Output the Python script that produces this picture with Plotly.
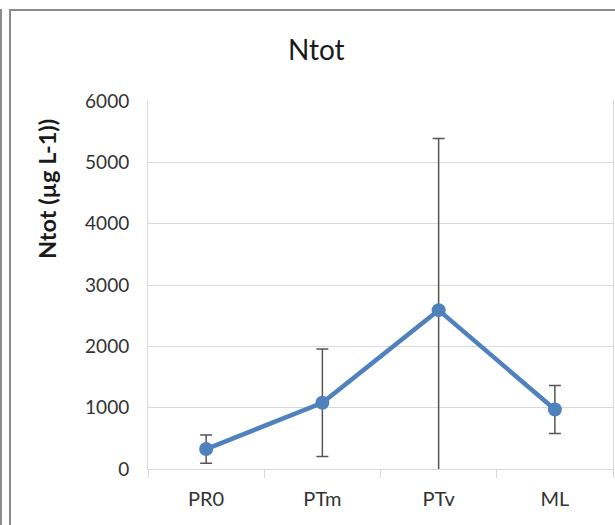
import plotly.graph_objects as go

categories = ["PR0", "PTm", "PTv", "ML"]
ntot_mean = [325, 1080, 2590, 970]
ntot_err = [230, 875, 2800, 390]
y_ticks = [0, 1000, 2000, 3000, 4000, 5000, 6000]

W, H = 615, 525
L, R, T, B = 148, 2, 101, 56
PW = W - L - R
PH = H - T - B


def px_x(p):
    return (p - L) / PW


def px_y(p):
    return (H - B - p) / PH


fig = go.Figure()
fig.add_trace(go.Scatter(
    x=categories,
    y=ntot_mean,
    mode="lines+markers",
    line=dict(color="#4F81BD", width=4.5),
    marker=dict(color="#4F81BD", size=14),
    error_y=dict(type="data", array=ntot_err, symmetric=True,
                 color="#555555", thickness=1.5, width=6),
    showlegend=False,
))

grey = "#D9D9D9"
fig.update_layout(
    width=W, height=H,
    margin=dict(l=L, r=R, t=T, b=B),
    paper_bgcolor="white",
    plot_bgcolor="white",
    font=dict(family="Lato", color="#333333"),
    xaxis=dict(
        type="category",
        range=[-0.5, 3.5],
        tickson="boundaries",
        ticks="outside", ticklen=8, tickcolor=grey, tickwidth=1,
        ticklabelstandoff=12,
        showline=True, linecolor=grey, linewidth=1,
        showgrid=False, zeroline=False,
        tickfont=dict(size=20, color="#333333"),
    ),
    yaxis=dict(
        range=[0, 6000],
        tickvals=y_ticks,
        ticks="", ticklabelstandoff=14,
        showgrid=True, gridcolor=grey, gridwidth=1,
        showline=True, linecolor=grey, linewidth=1, mirror=True,
        zeroline=False,
        tickfont=dict(size=19, color="#333333"),
    ),
    annotations=[
        dict(text="Ntot", xref="paper", yref="paper",
             x=px_x(316), y=px_y(49), xanchor="center", yanchor="middle",
             showarrow=False, font=dict(size=28, color="#1a1a1a")),
        dict(text="<b>Ntot (µg L-1))</b>", xref="paper", yref="paper",
             x=px_x(47), y=px_y(189), xanchor="center", yanchor="middle",
             textangle=-90, showarrow=False,
             font=dict(size=23.5, color="#1a1a1a")),
    ],
    shapes=[
        dict(type="rect", xref="paper", yref="paper",
             x0=px_x(0), x1=px_x(2), y0=px_y(9), y1=px_y(530),
             fillcolor="#8C8C8C", line=dict(width=0), layer="above"),
        dict(type="line", xref="paper", yref="paper",
             x0=px_x(10), x1=px_x(10), y0=px_y(9), y1=px_y(530),
             line=dict(color="#8A8A8A", width=2), layer="above"),
        dict(type="line", xref="paper", yref="paper",
             x0=px_x(9), x1=px_x(620), y0=px_y(10), y1=px_y(10),
             line=dict(color="#8A8A8A", width=2), layer="above"),
    ],
)

fig.write_html("out.html")
